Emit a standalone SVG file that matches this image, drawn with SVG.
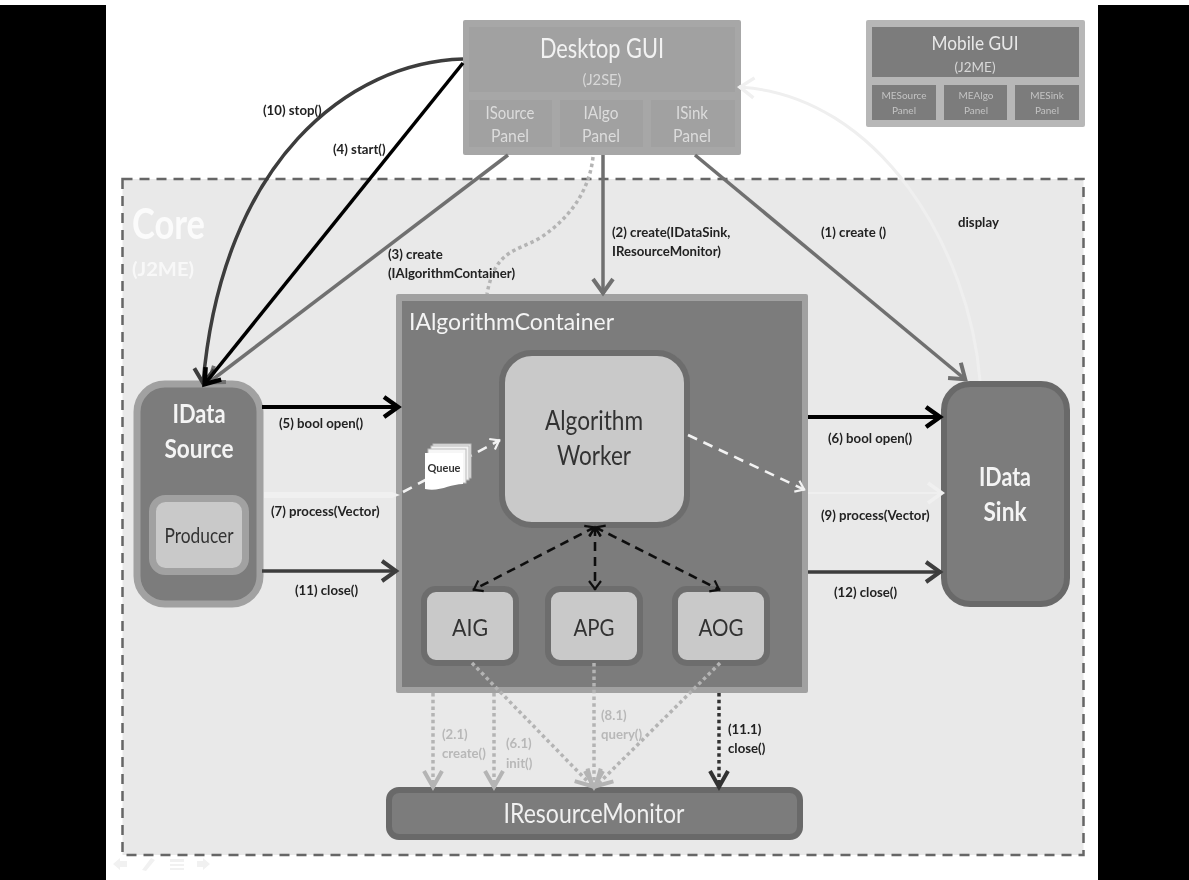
<svg xmlns="http://www.w3.org/2000/svg" width="1189" height="880" viewBox="0 0 1189 880">
<style>
text{font-family:Lato,"Open Sans","Liberation Sans",sans-serif}
.c{text-anchor:middle}
.l{font-size:13.2px;font-weight:700;fill:#222}
.g{font-size:13.2px;font-weight:700;fill:#b8b8b8}
.w{fill:#f4f4f4}
.d{fill:#333}
.f{fill:none;stroke-linecap:butt}
.dot{fill:none;stroke-dasharray:3.500 3.200;stroke-width:3.500}
.blk{fill:none;stroke:#111;stroke-width:2.600;stroke-dasharray:9 6}
.wd{fill:none;stroke:#f2f2f2;stroke-width:2.600;stroke-dasharray:10 7}
.box{fill:#c9c9c9;stroke:#6d6d6d;stroke-width:6}
</style>
<defs>
<filter id="soft" x="0" y="0" width="100%" height="100%"><feGaussianBlur stdDeviation="0.7"/></filter>
<marker id="aBlack" markerUnits="userSpaceOnUse" markerWidth="26" markerHeight="30" refX="20" refY="15" orient="auto"><path d="M5,5 L19,15 L5,25" fill="none" stroke="#000" stroke-width="4.500"/></marker>
<marker id="aDark" markerUnits="userSpaceOnUse" markerWidth="26" markerHeight="30" refX="20" refY="15" orient="auto"><path d="M5,5 L19,15 L5,25" fill="none" stroke="#3c3c3c" stroke-width="4"/></marker>
<marker id="aGrey" markerUnits="userSpaceOnUse" markerWidth="26" markerHeight="30" refX="20" refY="15" orient="auto"><path d="M5,5 L19,15 L5,25" fill="none" stroke="#707070" stroke-width="4"/></marker>
<marker id="aPale" markerUnits="userSpaceOnUse" markerWidth="26" markerHeight="30" refX="20" refY="15" orient="auto"><path d="M5,5 L19,15 L5,25" fill="none" stroke="#f0f0f0" stroke-width="3.500"/></marker>
<marker id="aWhite" markerUnits="userSpaceOnUse" markerWidth="20" markerHeight="20" refX="14" refY="10" orient="auto"><path d="M5,4 L13,10 L5,16" fill="none" stroke="#f2f2f2" stroke-width="2.200"/></marker>
<marker id="aNoir" markerUnits="userSpaceOnUse" markerWidth="20" markerHeight="20" refX="14" refY="10" orient="auto-start-reverse"><path d="M5,4 L13,10 L5,16" fill="none" stroke="#111" stroke-width="2.200"/></marker>
<marker id="aLt" markerUnits="userSpaceOnUse" markerWidth="26" markerHeight="30" refX="20" refY="15" orient="auto"><path d="M3,6 L19,15 L3,24" fill="none" stroke="#b4b4b4" stroke-width="4"/></marker>
<marker id="aLd" markerUnits="userSpaceOnUse" markerWidth="26" markerHeight="30" refX="20" refY="15" orient="auto"><path d="M3,6 L19,15 L3,24" fill="none" stroke="#333" stroke-width="4"/></marker>
</defs>
<rect width="1189" height="880" fill="#fff"/>
<g filter="url(#soft)">
<rect id="bar-left" x="0" y="5" width="106" height="875" fill="#000"/>
<rect id="bar-right" x="1098" y="5" width="91" height="875" fill="#000"/>
<g id="core">
<rect x="122.500" y="179" width="961" height="676" fill="#e9e9e9" stroke="#666" stroke-width="2.500" stroke-dasharray="10 7"/>
<text x="132" y="239" font-size="42" font-weight="700" fill="#fbfbfb" textLength="73" lengthAdjust="spacingAndGlyphs">Core</text>
<text x="132" y="276" font-size="19" font-weight="700" fill="#f8f8f8" textLength="62" lengthAdjust="spacingAndGlyphs">(J2ME)</text>
</g>
<g id="nav" fill="#f1f1f1">
<path d="M113,864 L120,858 V861 H127 V867 H120 V870Z"/>
<path d="M142,870 L151,858 L155,860 L146,871Z"/>
<path d="M170,859 H184 V862 H170Z M170,864 H184 V866 H170Z M170,868 H184 V870 H170Z"/>
<path d="M210,864 L203,858 V861 H197 V867 H203 V870Z"/>
</g>
<g id="desktop-gui">
<rect x="463" y="20" width="278" height="135" rx="2" fill="#a7a7a7"/>
<rect x="469" y="27" width="266" height="65" fill="#a1a1a1"/>
<rect x="469" y="100" width="83" height="47" fill="#a1a1a1"/>
<rect x="560" y="100" width="83" height="47" fill="#a1a1a1"/>
<rect x="651" y="100" width="84" height="47" fill="#a1a1a1"/>
<text class="c" x="602" y="58" font-size="26" fill="#f2f2f2" textLength="124" lengthAdjust="spacingAndGlyphs">Desktop GUI</text>
<text class="c" x="602" y="85" font-size="15" fill="#d8d8d8" textLength="39" lengthAdjust="spacingAndGlyphs">(J2SE)</text>
<g class="c" font-size="17" fill="#dcdcdc">
<text x="510" y="119" textLength="49" lengthAdjust="spacingAndGlyphs">ISource</text><text x="510" y="142" textLength="38" lengthAdjust="spacingAndGlyphs">Panel</text>
<text x="601" y="119" textLength="35" lengthAdjust="spacingAndGlyphs">IAlgo</text><text x="601" y="142" textLength="38" lengthAdjust="spacingAndGlyphs">Panel</text>
<text x="692" y="119" textLength="32" lengthAdjust="spacingAndGlyphs">ISink</text><text x="692" y="142" textLength="38" lengthAdjust="spacingAndGlyphs">Panel</text>
</g>
</g>
<g id="mobile-gui">
<rect x="866" y="20" width="219" height="107" rx="2" fill="#b7b7b7"/>
<rect x="872" y="27" width="207" height="50" fill="#7b7b7b"/>
<rect x="872" y="85" width="64" height="35" fill="#7b7b7b"/>
<rect x="944" y="85" width="63" height="35" fill="#7b7b7b"/>
<rect x="1015" y="85" width="64" height="35" fill="#7b7b7b"/>
<text class="c" x="975" y="50" font-size="19" fill="#e8e8e8" textLength="87" lengthAdjust="spacingAndGlyphs">Mobile GUI</text>
<text class="c" x="975" y="72" font-size="14" fill="#d8d8d8" textLength="41" lengthAdjust="spacingAndGlyphs">(J2ME)</text>
<g class="c" font-size="10" fill="#c4c4c4">
<text x="904" y="99">MESource</text><text x="904" y="114">Panel</text>
<text x="976" y="99">MEAlgo</text><text x="976" y="114">Panel</text>
<text x="1047" y="99">MESink</text><text x="1047" y="114">Panel</text>
</g>
</g>
<g id="algorithm-container">
<rect x="396" y="294" width="412" height="399" rx="2" fill="#a1a1a1"/>
<rect x="402" y="301" width="400" height="386" fill="#7b7b7b"/>
<text x="409" y="330" font-size="24" fill="#f4f4f4" textLength="205" lengthAdjust="spacingAndGlyphs">IAlgorithmContainer</text>
</g>
<g id="algorithm-worker">
<rect class="box" x="502" y="353" width="185" height="172" rx="30"/>
<text class="c d" x="594" y="430" font-size="26" textLength="98" lengthAdjust="spacingAndGlyphs">Algorithm</text>
<text class="c d" x="594" y="465" font-size="26" textLength="74" lengthAdjust="spacingAndGlyphs">Worker</text>
</g>
<g id="aig"><rect class="box" x="424" y="589" width="92" height="74" rx="12"/><text class="c d" x="470" y="636" font-size="24" textLength="36" lengthAdjust="spacingAndGlyphs">AIG</text></g>
<g id="apg"><rect class="box" x="548" y="589" width="92" height="74" rx="12"/><text class="c d" x="594" y="636" font-size="24" textLength="41" lengthAdjust="spacingAndGlyphs">APG</text></g>
<g id="aog"><rect class="box" x="675" y="589" width="92" height="74" rx="12"/><text class="c d" x="721" y="636" font-size="24" textLength="45" lengthAdjust="spacingAndGlyphs">AOG</text></g>
<g id="idata-source">
<rect x="137" y="384" width="123" height="220" rx="28" fill="#7b7b7b" stroke="#a1a1a1" stroke-width="7"/>
<text class="c w" x="199" y="423" font-size="26" font-weight="700" textLength="53" lengthAdjust="spacingAndGlyphs">IData</text>
<text class="c w" x="199" y="458" font-size="26" font-weight="700" textLength="69" lengthAdjust="spacingAndGlyphs">Source</text>
<rect x="152.500" y="498.500" width="93" height="73" rx="13" fill="#c9c9c9" stroke="#a1a1a1" stroke-width="7"/>
<text class="c d" x="199" y="543" font-size="21" textLength="69" lengthAdjust="spacingAndGlyphs">Producer</text>
</g>
<g id="idata-sink">
<rect x="944" y="384" width="123" height="220" rx="26" fill="#7b7b7b" stroke="#696969" stroke-width="6"/>
<text class="c w" x="1005" y="486" font-size="26" font-weight="700" textLength="52" lengthAdjust="spacingAndGlyphs">IData</text>
<text class="c w" x="1005" y="521" font-size="26" font-weight="700" textLength="43" lengthAdjust="spacingAndGlyphs">Sink</text>
</g>
<g id="resource-monitor">
<rect x="389" y="790" width="411" height="47" rx="10" fill="#7b7b7b" stroke="#696969" stroke-width="6"/>
<text class="c" x="594" y="823" font-size="26" fill="#f0f0f0" textLength="181" lengthAdjust="spacingAndGlyphs">IResourceMonitor</text>
</g>
<g id="connectors">
<path class="f" d="M980,381 C970,250 880,95 739,87" stroke="#efefef" stroke-width="3" marker-end="url(#aPale)"/>
<path class="f" d="M508,155 L208,383" stroke="#707070" stroke-width="3.500" marker-end="url(#aGrey)"/>
<path class="f" d="M463,59 C350,62 222,160 203,384" stroke="#3c3c3c" stroke-width="3.500" marker-end="url(#aDark)"/>
<path class="f" d="M463,63 L204,385" stroke="#000" stroke-width="3.500" marker-end="url(#aBlack)"/>
<path class="f" d="M603,155 V294" stroke="#707070" stroke-width="3.500" marker-end="url(#aGrey)"/>
<path class="f" d="M695,155 L966,380" stroke="#707070" stroke-width="3.500" marker-end="url(#aGrey)"/>
<path class="dot" stroke="#b4b4b4" d="M593,157 C590,185 575,215 540,238 C515,252 495,250 487,294"/>
<path class="f" d="M262,407 H399" stroke="#000" stroke-width="4" marker-end="url(#aBlack)"/>
<path class="f" d="M262,571 H397" stroke="#3c3c3c" stroke-width="3.500" marker-end="url(#aDark)"/>
<path class="f" d="M808,417 H941" stroke="#000" stroke-width="4" marker-end="url(#aBlack)"/>
<path class="f" d="M808,572 H941" stroke="#3c3c3c" stroke-width="3.500" marker-end="url(#aDark)"/>
<path d="M264,492 H392 L400,495 L392,498 H264Z" fill="#f0f0f0"/>
<path class="f" d="M808,493 H943" stroke="#efefef" stroke-width="2" marker-end="url(#aPale)"/>
<path class="wd" d="M403,492 L500,440" marker-end="url(#aWhite)"/>
<path class="wd" d="M688,435 L805,490" marker-end="url(#aWhite)"/>
<path class="blk" d="M595,527 L473,590" marker-start="url(#aNoir)" marker-end="url(#aNoir)"/>
<path class="blk" d="M595,527 V590" marker-start="url(#aNoir)" marker-end="url(#aNoir)"/>
<path class="blk" d="M595,527 L720,590" marker-start="url(#aNoir)" marker-end="url(#aNoir)"/>
<path class="dot" stroke="#b4b4b4" d="M433,693 V788" marker-end="url(#aLt)"/>
<path class="dot" stroke="#b4b4b4" d="M494,693 V788" marker-end="url(#aLt)"/>
<path class="dot" stroke="#b4b4b4" d="M472,663 L593,787" marker-end="url(#aLt)"/>
<path class="dot" stroke="#b4b4b4" d="M594,663 V788" marker-end="url(#aLt)"/>
<path class="dot" stroke="#b4b4b4" d="M720,663 L595,787" marker-end="url(#aLt)"/>
<path class="dot" stroke="#333" d="M719,693 V788" marker-end="url(#aLd)"/>
</g>
<g id="queue">
<rect x="433" y="444" width="38" height="34" fill="#e8e8e8" stroke="#bbb"/>
<rect x="431" y="446" width="38" height="34" fill="#f2f2f2" stroke="#bbb"/>
<rect x="428" y="449" width="38" height="34" fill="#f6f6f6" stroke="#bbb"/>
<path d="M425,453 H463 V484 C450,484 440,492 425,489Z" fill="#fff"/>
<text class="c" x="444" y="472" font-size="11" font-weight="700" fill="#333">Queue</text>
</g>
<g id="labels">
<text class="l" x="263" y="115">(10) stop()</text>
<text class="l" x="333" y="154">(4) start()</text>
<text class="l" x="388" y="259">(3) create</text>
<text class="l" x="388" y="278">(IAlgorithmContainer)</text>
<text class="l" x="612" y="237">(2) create(IDataSink,</text>
<text class="l" x="612" y="256">IResourceMonitor)</text>
<text class="l" x="821" y="237">(1) create ()</text>
<text class="l" x="958" y="227">display</text>
<text class="l" x="279" y="428">(5) bool open()</text>
<text class="l" x="271" y="516">(7) process(Vector)</text>
<text class="l" x="295" y="595">(11) close()</text>
<text class="l" x="828" y="443">(6) bool open()</text>
<text class="l" x="821" y="520">(9) process(Vector)</text>
<text class="l" x="834" y="597">(12) close()</text>
<text class="g" x="442" y="739">(2.1)</text>
<text class="g" x="442" y="758">create()</text>
<text class="g" x="506" y="748">(6.1)</text>
<text class="g" x="506" y="768">init()</text>
<text class="g" x="601" y="720">(8.1)</text>
<text class="g" x="601" y="739">query()</text>
<text class="l" x="728" y="734">(11.1)</text>
<text class="l" x="728" y="753">close()</text>
</g>
</g>
</svg>
